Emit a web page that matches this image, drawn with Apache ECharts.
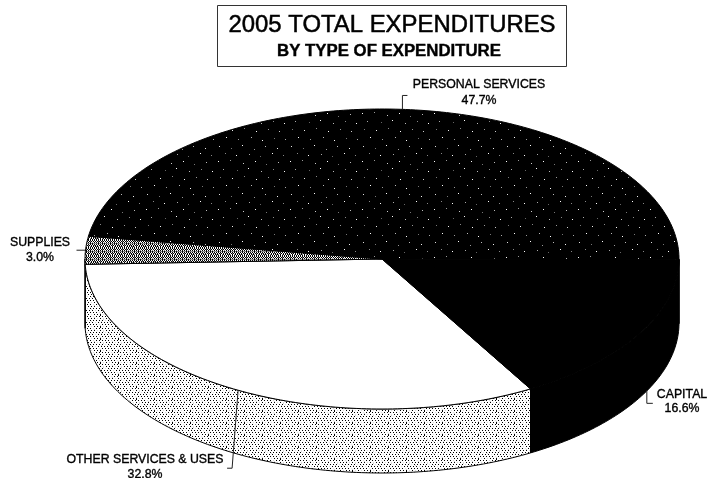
<!DOCTYPE html>
<html>
<head>
<meta charset="utf-8">
<style>html,body{margin:0;padding:0;background:#fff}#chart{width:709px;height:478px}</style>
<script src="https://cdn.jsdelivr.net/npm/echarts@6/dist/echarts.min.js"></script>
</head>
<body>
<div id="chart"></div>
<script>
// 2005 expenditures by type, clockwise starting from the lower right of the disc
const categories = ['OTHER SERVICES & USES', 'SUPPLIES', 'PERSONAL SERVICES', 'CAPITAL'];
const shares = [32.8, 3.0, 47.7, 16.6];
const chartTitle = '2005 TOTAL EXPENDITURES';
const chartSubtitle = 'BY TYPE OF EXPENDITURE';

// Disc geometry
const CX = 382, CY = 259, RX = 297, RY = 150, DEPTH = 64;
const START_DEG = 150;
const TOTAL = shares.reduce((a, b) => a + b, 0);

// Label placement per slice: text centre, line height, leader path relative to the rim anchor
const labelLayout = [
  { x: 145, y: 467, lh: 15, onWall: false, path: [[0, 0], [-6, 78], [-11, 78]] },
  { x: 40,  y: 250, lh: 15, onWall: false, path: [[0, 0], [-9, 0]] },
  { x: 479, y: 93,  lh: 16, onWall: false, path: [[-3, 0], [-3, -14], [2, -14]] },
  { x: 682, y: 402, lh: 14, onWall: true,  path: [[8, -8], [8, 5], [14, 5]] }
];

// Builds a repeating fill tile from rows of characters: # black, . white, + grey, o pale
function tile(rows) {
  const c = document.createElement('canvas');
  c.width = rows[0].length; c.height = rows.length;
  const g = c.getContext('2d');
  const ink = { '#': '#000', '.': '#fff', '+': '#8a8a8a', 'o': '#d8d8d8' };
  rows.forEach((r, y) => [...r].forEach((ch, x) => {
    g.fillStyle = ink[ch]; g.fillRect(x, y, 1, 1);
  }));
  return { image: c, repeat: 'repeat' };
}

// Irregular white specks over black for the personal services slice
function speckTile() {
  const c = document.createElement('canvas');
  c.width = 72; c.height = 48;
  const g = c.getContext('2d');
  g.fillStyle = '#000'; g.fillRect(0, 0, 72, 48);
  const specks = [
    [3,2,'#ddd'],[15,4,'#777'],[26,1,'#fff'],[38,5,'#999'],[49,2,'#bbb'],[61,4,'#eee'],
    [9,9,'#888'],[20,11,'#fff'],[33,10,'#aaa'],[44,12,'#666'],[56,9,'#fff'],[67,11,'#888'],
    [2,17,'#fff'],[14,16,'#999'],[27,19,'#ccc'],[39,17,'#fff'],[50,20,'#777'],[62,18,'#bbb'],
    [7,25,'#aaa'],[21,26,'#666'],[32,24,'#fff'],[45,27,'#bbb'],[57,25,'#888'],[68,27,'#fff'],
    [4,33,'#777'],[16,34,'#eee'],[28,32,'#888'],[40,35,'#fff'],[52,33,'#999'],[63,35,'#ccc'],
    [10,41,'#fff'],[22,43,'#999'],[35,41,'#bbb'],[46,44,'#fff'],[58,42,'#777'],[69,43,'#aaa']
  ];
  specks.forEach(([x, y, col]) => { g.fillStyle = col; g.fillRect(x, y, 1, 1); });
  return { image: c, repeat: 'repeat' };
}

// Dense dither for the supplies slice, fine stipple for the other-services wall
const supplyFill = tile([
  '#.#.#.#.#.#.',
  '.#+#.#+#.#.#',
  '#.#.#.#.+.#.',
  '++#+++#+#+++',
  '#.#.#.#.#.#.',
  '.#.#+#.#.#+#',
  '+#+.#.+#.#.#',
  '#.#.#.#.#.#.'
]);
const wallFill = tile([
  '#..#..#..o..#..#..',
  '..........o.......',
  '.o..#..#..#..o..#.',
  '..........#.......',
  '#..o..#..#..#..#..',
  '....o.............',
  '.#..#..o..#..o..#.',
  '.............o....',
  '#..#..#..#..#..o..',
  '.o.........o......',
  '..#..o..#..#..#..#',
  '..................'
]);
const topFills = ['#fff', supplyFill, speckTile(), '#000'];
const wallFills = [wallFill, '#000', '#000', '#000'];

// Point on the disc rim, angle measured clockwise from the top
function rim(deg, dy) {
  const a = deg * Math.PI / 180;
  return [CX + RX * Math.sin(a), CY - RY * Math.cos(a) + (dy || 0)];
}
function arc(from, to, dy) {
  const n = Math.max(2, Math.ceil(Math.abs(to - from)));
  const pts = [];
  for (let i = 0; i <= n; i++) pts.push(rim(from + (to - from) * i / n, dy));
  return pts;
}

const LABEL_FONT = '12.3px "Liberation Sans", Arial, sans-serif';
const TITLE_FAMILY = '"Liberation Sans", Arial, sans-serif';

function renderSlice(params, api) {
  const i = params.dataIndex;
  const value = api.value(0);
  let before = 0;
  for (let k = 0; k < i; k++) before += shares[k];
  const from = START_DEG + before / TOTAL * 360;
  const to = from + value / TOTAL * 360;
  const mid = (from + to) / 2;
  const children = [];

  // Outer wall: the stretch of rim facing the viewer, 90..270 degrees, also after wrapping past 360
  [0, 360].forEach(turn => {
    const wf = Math.max(from, 90 + turn), wt = Math.min(to, 270 + turn);
    if (wt > wf) {
      children.push({
        type: 'polygon', z2: 1,
        shape: { points: arc(wf, wt, 0).concat(arc(wt, wf, DEPTH)) },
        style: { fill: wallFills[i], stroke: '#000', lineWidth: 1 }
      });
    }
  });

  // Top face
  children.push({
    type: 'polygon', z2: 2,
    shape: { points: [[CX, CY]].concat(arc(from, to, 0)) },
    style: { fill: topFills[i], stroke: '#000', lineWidth: 1 }
  });

  // Leader line from the rim to the label
  const layout = labelLayout[i];
  const anchor = rim(mid, layout.onWall ? DEPTH : 0);
  children.push({
    type: 'polyline', z2: 3,
    shape: { points: layout.path.map(p => [anchor[0] + p[0], anchor[1] + p[1]]) },
    style: { fill: null, stroke: '#222', lineWidth: 1 }
  });

  // Category name and share
  children.push({
    type: 'text', z2: 4,
    style: {
      text: categories[i] + '\n' + value.toFixed(1) + '%',
      x: layout.x, y: layout.y,
      align: 'center', verticalAlign: 'middle',
      lineHeight: layout.lh, font: LABEL_FONT, fill: '#000',
      stroke: '#000', lineWidth: 0.35
    }
  });
  return { type: 'group', children };
}

const chart = echarts.init(document.getElementById('chart'), null, { renderer: 'canvas' });
chart.setOption({
  animation: false,
  backgroundColor: '#fff',
  title: [{
    text: chartTitle,
    left: 392, top: 13, textAlign: 'center', padding: 0,
    textStyle: { fontFamily: TITLE_FAMILY, fontSize: 23.9, fontWeight: 'normal', color: '#000', lineHeight: 24, textBorderColor: '#000', textBorderWidth: 0.5 }
  }, {
    text: chartSubtitle,
    left: 389, top: 43, textAlign: 'center', padding: 0,
    textStyle: { fontFamily: TITLE_FAMILY, fontSize: 16.8, fontWeight: 'bold', color: '#000', lineHeight: 16, textBorderColor: '#000', textBorderWidth: 0.4 }
  }],
  graphic: [{
    type: 'rect', z: -1,
    shape: { x: 217.5, y: 5.5, width: 349, height: 61 },
    style: { fill: '#fff', stroke: '#333', lineWidth: 1 }
  }],
  series: [{
    type: 'custom',
    coordinateSystem: 'none',
    renderItem: renderSlice,
    data: shares.map(v => [v])
  }]
});
</script>
</body>
</html>
